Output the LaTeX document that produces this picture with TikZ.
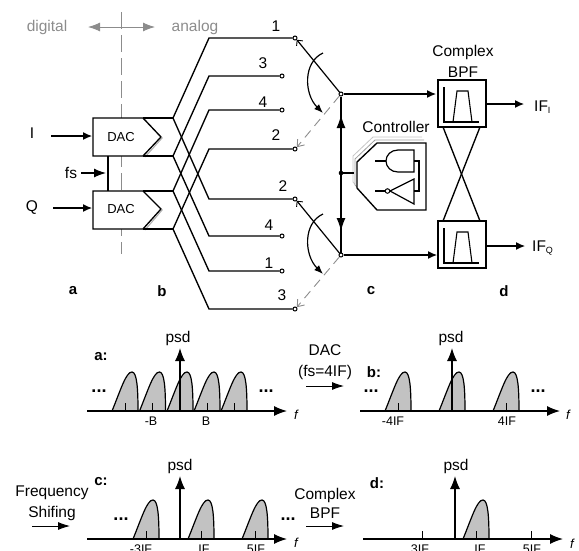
\documentclass[tikz,border=0pt]{standalone}
\usepackage{fontspec}
\setmainfont{Liberation Sans}
\usetikzlibrary{arrows.meta}
\newcommand{\fsz}[1]{\fontsize{#1}{#1}\selectfont}
\newcommand{\hump}[2]{%
  \draw[humpline] (#1,#2) .. controls (#1+9,#2-22) and (#1+14,#2-39) .. (#1+20,#2-39)
    .. controls (#1+25,#2-39) and (#1+26,#2-22) .. (#1+26,#2) -- cycle;
  \draw[tickline] (#1+13,#2) -- (#1+13,#2-8);}
\definecolor{dashgray}{gray}{0.55}
\definecolor{txtgray}{gray}{0.55}
\definecolor{humpfill}{gray}{0.76}
\tikzset{
  wire/.style={line width=1.35pt,black},
  arr/.style={line width=1.2pt,-{Latex[length=9pt,width=8pt]}},
  bigarr/.style={line width=1.3pt,-{Latex[length=13pt,width=10pt]}},
  term/.style={circle,draw,line width=1pt,fill=white,inner sep=0pt,minimum size=4pt},
  lbl/.style={inner sep=0pt,font=\fsz{15.5}},
  dactxt/.style={inner sep=0pt,font=\fsz{13}},
  tag/.style={inner sep=0pt,font=\fsz{15}\bfseries},
  axl/.style={inner sep=0pt,font=\fsz{12.5}},
  fl/.style={inner sep=0pt,font=\fsz{13}\itshape},
  dotsl/.style={inner sep=0pt,font=\fsz{18}\bfseries},
  humpline/.style={line width=1.2pt,fill=humpfill},
  tickline/.style={line width=0.7pt},
  ghost/.style={line width=0.9pt,dashgray,dash pattern=on 9pt off 6pt,-{Straight Barb[length=6pt,width=9pt,line width=0.9pt]}},
  swing/.style={line width=1.2pt,-{Latex[length=9pt,width=7pt]}},
  sw/.style={line width=1.2pt,-{Straight Barb[length=4pt,width=8pt,line width=0.9pt]}},
  box/.style={draw,line width=1.3pt,fill=white,minimum width=48pt,minimum height=47pt,inner sep=0pt}
}
\begin{document}
\begin{tikzpicture}[x=1pt,y=-1pt]
\useasboundingbox (0,0) rectangle (579,550);
\clip (0,0) rectangle (579,550);
% digital / analog
\draw[dashgray,line width=0.9pt,dash pattern=on 17pt off 6pt] (121,12) -- (121,254);
\node[lbl,text=txtgray] (dig) at (47,27) {digital};
\node[lbl,text=txtgray] (ana) at (195,27) {analog};
\coordinate (dl) at (88,27); \coordinate (dr) at (155,27);
\draw[dashgray,line width=0.9pt,{Latex[length=12pt,width=9pt]}-{Latex[length=12pt,width=9pt]}] (dl) -- (dr);
% DACs
\draw[wire,fill=white] (93,118) coordinate (d1a) -- (143,118) coordinate (d1t) -- (161,137) -- (143,156) coordinate (d1b) -- (93,156) coordinate (d1c) -- cycle;
\draw[wire,fill=white] (93,191) coordinate (d2a) -- (143,191) coordinate (d2t) -- (161,209) -- (143,229) coordinate (d2b) -- (93,229) coordinate (d2c) -- cycle;
\draw[dashgray!70,line width=1.1pt] (162.5,137.5) -- (145,157);
\draw[dashgray!70,line width=1.1pt] (162.5,209.5) -- (145,230);
\node[dactxt] (dac1) at (121,137) {DAC};
\node[dactxt] (dac2) at (121,209.5) {DAC};
\node[lbl] (I) at (32,133) {I};
\node[lbl] (fs) at (71,173) {fs};
\node[lbl] (Q) at (32,208) {Q};
\coordinate (iS) at (51,136); \coordinate (iE) at (92,136);
\coordinate (qS) at (53,208); \coordinate (qE) at (92,208);
\coordinate (fS) at (81,173); \coordinate (fE) at (106,173);
\draw[arr] (iS) -- (iE);
\draw[arr] (qS) -- (qE);
\draw[line width=1.2pt,-{Latex[length=12pt,width=9pt]}] (fS) -- (fE);
\draw[wire] (108,156) -- (108,191);
% terminals
\node[term] (t1) at (295,38) {};
\node[term] (t3) at (282,76) {};
\node[term] (t4) at (282,110) {};
\node[term] (t2) at (295,149) {};
\node[term] (u2) at (295,199) {};
\node[term] (u4) at (282,236) {};
\node[term] (u1) at (282,271) {};
\node[term] (u3) at (295,309) {};
% junctions
\coordinate (j1) at (173,118); \coordinate (j2) at (173,156);
\coordinate (j3) at (173,191); \coordinate (j4) at (173,229);
\draw[wire] (d1t) -- (j1); \draw[wire] (d1b) -- (j2);
\draw[wire] (d2t) -- (j3); \draw[wire] (d2b) -- (j4);
\draw[wire] (j1) -- (209,38) -- (t1);
\draw[wire] (j2) -- (209,76) -- (t3);
\draw[wire] (j3) -- (209,110) -- (t4);
\draw[wire] (j4) -- (209,149) -- (t2);
\draw[wire] (j1) -- (209,199) -- (u2);
\draw[wire] (j2) -- (209,236) -- (u4);
\draw[wire] (j3) -- (209,271) -- (u1);
\draw[wire] (j4) -- (209,309) -- (u3);
\node[lbl] (n1) at (276,26) {1};
\node[lbl] (n3) at (263,63) {3};
\node[lbl] (n4) at (263,102) {4};
\node[lbl] (n2) at (276,135) {2};
\node[lbl] (m2) at (283,186) {2};
\node[lbl] (m4) at (269,225) {4};
\node[lbl] (m1) at (269,263) {1};
\node[lbl] (m3) at (282,295) {3};
% switches
\node[term,minimum size=4pt] (p1) at (341,94) {};
\node[term,minimum size=4pt] (p2) at (341,255) {};
\draw[sw] (p1) -- (t1.south east);
\draw[sw] (p2) -- (u2.south east);
\draw[ghost] (p1) -- (t2.north east);
\draw[ghost] (p2) -- (u3.north east);
\coordinate (s1a) at (323,53); \coordinate (s1b) at (323,113);
\coordinate (s2a) at (323,214); \coordinate (s2b) at (323,274);
\draw[swing] (s1a) .. controls (303,62) and (304,94) .. (s1b);
\draw[swing] (s2a) .. controls (303,223) and (304,255) .. (s2b);
% vertical control bus
\coordinate (busm) at (341,173);
\draw[wire] (p1) -- (p2);
\draw[line width=1.3pt,-{Latex[length=13pt,width=9pt]}] (busm) -- (341,115);
\draw[line width=1.3pt,-{Latex[length=13pt,width=9pt]}] (busm) -- (341,231);
\fill (busm) circle (2.3);
% controller
\node[lbl] (ctl) at (396,127) {Controller};
\draw[gray!45,line width=0.8pt,fill=white] (422,137) -- (373,137) -- (353,156) -- (353,182) -- (360,190);
\draw[gray!75,line width=0.8pt,fill=white] (424,140) -- (375,140) -- (355,159) -- (355,185) -- (362,192);
\draw[wire,fill=white] (426,143) coordinate (c1) -- (377,143) -- (357,162) coordinate (cL) -- (357,188) -- (377,210) -- (426,210) -- cycle;
\draw[wire] (busm) -- (354,173);
\draw[line width=1.2pt] (414,150) -- (398,150) .. controls (391,150) and (386,155) .. (386,161) .. controls (386,167) and (391,172) .. (398,172) -- (414,172) -- cycle;
\draw[line width=1.2pt] (375,161) -- (386,161);
\draw[line width=1.2pt] (414,161) -- (419,161) -- (419,191) -- (414,191);
\draw[line width=1.2pt] (414,179) -- (390,191) -- (414,204) -- cycle;
\draw[line width=1.2pt] (375,191) -- (385,191);
\node[term,minimum size=4.5pt] (inv) at (387.5,191) {};
% BPF
\node[lbl] (cx) at (463,52) {Complex};
\node[lbl] (bp) at (463,72) {BPF};
\node[box] (f1) at (462,103.5) {};
\node[box] (f2) at (462,244.5) {};
\foreach \d in {0,141}{
  \draw[line width=1.1pt] (444,87+\d) -- (444,122+\d) -- (479,122+\d);
  \draw[line width=1.1pt] (453,122+\d) -- (457,91+\d) -- (468,91+\d) -- (472,122+\d);
}
\coordinate (f1a) at (443,127); \coordinate (f1b) at (480,127);
\coordinate (f2a) at (443,221); \coordinate (f2b) at (480,221);
\draw[wire] (f1a) -- (f2b);
\draw[wire] (f1b) -- (f2a);
\coordinate (in1) at (436,94); \coordinate (in2) at (437,255);
\draw[arr] (p1) -- (in1);
\draw[arr] (p2) -- (in2);
\coordinate (o1) at (524,104); \coordinate (o2) at (525,246);
\draw[arr] (f1.east |- o1) -- (o1);
\draw[arr] (f2.east |- o2) -- (o2);
\node[lbl,anchor=west] (ifi) at (534,107) {IF\textsubscript{\fsz{9}I}};
\node[lbl,anchor=west] (ifq) at (532,248) {IF\textsubscript{\fsz{9}Q}};
\node[tag] (ta) at (73,291) {a};
\node[tag] (tb) at (162,291) {b};
\node[tag] (tc) at (371,291) {c};
\node[tag] (td) at (504,291) {d};
% spectrum a
\foreach \x in {112,139.5,167,194,221}{\hump{\x}{411}}
\draw[bigarr] (87,411) -- (287,411);
\draw[bigarr] (180,411) -- (180,348);
\node[lbl] (pa) at (178,338) {psd};
\node[tag] (la) at (101,357) {a:};
\node[dotsl] (da1) at (99,391) {...};
\node[dotsl] (da2) at (266,391) {...};
\node[axl] (xa1) at (151,421) {-B};
\node[axl] (xa2) at (206,421) {B};
\node[fl] (fa) at (296,415) {f};
% spectrum b
\foreach \x in {385,439,493}{\hump{\x}{411}}
\draw[bigarr] (360,411) -- (560,411);
\draw[bigarr] (452,411) -- (452,348);
\node[lbl] (pb) at (451,338) {psd};
\node[tag] (lb) at (374,372) {b:};
\node[dotsl] (db1) at (371,391) {...};
\node[dotsl] (db2) at (538,391) {...};
\node[axl] (xb1) at (393,421) {-4IF};
\node[axl] (xb2) at (507,421) {4IF};
\node[fl] (fb) at (568,415) {f};
\node[lbl] (dacl) at (325,350) {DAC};
\node[lbl] (fsl) at (325,372) {(fs=4IF)};
\coordinate (ab1) at (306,386); \coordinate (ab2) at (344,386);
\draw[line width=0.9pt,-{Latex[length=12pt,width=8pt]}] (ab1) -- (ab2);
% spectrum c
\foreach \x in {133,188,242}{\hump{\x}{539}}
\draw[bigarr] (87,539) -- (287,539);
\draw[bigarr] (180,539) -- (180,476);
\node[lbl] (pc) at (180,466) {psd};
\node[tag] (lc) at (101,482) {c:};
\node[dotsl] (dc1) at (121,519) {...};
\node[dotsl] (dc2) at (288,519) {...};
\node[axl] (xc1) at (141,549) {-3IF};
\node[axl] (xc2) at (204,549) {IF};
\node[axl] (xc3) at (256,549) {5IF};
\node[fl] (fc) at (296,543) {f};
\node[lbl] (fr) at (52,493) {Frequency};
\node[lbl] (sh) at (52,513) {Shifing};
\coordinate (fa1) at (32,526); \coordinate (fa2) at (70,526);
\draw[line width=0.9pt,-{Latex[length=12pt,width=8pt]}] (fa1) -- (fa2);
% spectrum d
\hump{463}{539}
\draw[tickline] (422,539) -- (422,531);
\draw[tickline] (531,539) -- (531,531);
\draw[bigarr] (363,539) -- (563,539);
\draw[bigarr] (455,539) -- (455,476);
\node[lbl] (pd) at (456,466) {psd};
\node[tag] (ld) at (377,483) {d:};
\node[axl] (xd1) at (420,549) {3IF};
\node[axl] (xd2) at (480,549) {IF};
\node[axl] (xd3) at (532,549) {5IF};
\node[fl] (fd) at (572,544) {f};
\node[lbl] (cb1) at (325,495) {Complex};
\node[lbl] (cb2) at (325,513) {BPF};
\coordinate (cb3) at (306,526); \coordinate (cb4) at (344,526);
\draw[line width=0.9pt,-{Latex[length=12pt,width=8pt]}] (cb3) -- (cb4);
\end{tikzpicture}
\end{document}
